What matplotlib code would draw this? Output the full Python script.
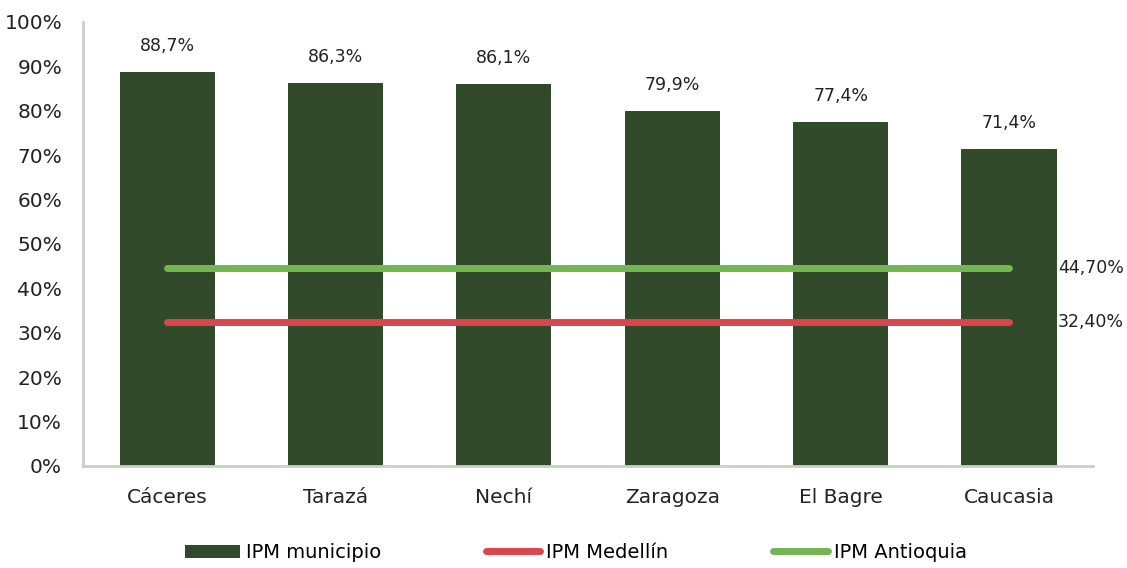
import numpy as np
import matplotlib.pyplot as plt
from matplotlib.patches import Patch
from matplotlib.lines import Line2D

municipios = ['Cáceres', 'Tarazá', 'Nechí', 'Zaragoza', 'El Bagre', 'Caucasia']
ipm_municipio = [88.7, 86.3, 86.1, 79.9, 77.4, 71.4]
ipm_medellin = 32.4
ipm_antioquia = 44.7

bar_color = '#314A2A'
red = '#D9464E'
green = '#74B654'
spine_color = '#C9D1C5'

plt.rcParams['font.family'] = ['DejaVu Sans']

fig = plt.figure(figsize=(11.27, 5.68), dpi=100)
ax = fig.add_axes([0.0736, 0.1796, 0.8964, 0.7817])

x = np.arange(len(municipios))
ax.bar(x, ipm_municipio, width=0.565, color=bar_color, zorder=2)

for xi, v in zip(x, ipm_municipio):
    ax.text(xi, v + 3.8, f'{v:.1f}%'.replace('.', ','), ha='center', va='bottom',
            fontsize=12.5, color='#222222')

ax.plot([x[0], x[-1]], [ipm_antioquia, ipm_antioquia], color=green, lw=5,
        solid_capstyle='round', zorder=3)
ax.plot([x[0], x[-1]], [ipm_medellin, ipm_medellin], color=red, lw=5,
        solid_capstyle='round', zorder=3)
ax.text(x[-1] + 0.29, ipm_antioquia, f'{ipm_antioquia:.2f}%'.replace('.', ','),
        va='center', ha='left', fontsize=12.5, color='#222222')
ax.text(x[-1] + 0.29, ipm_medellin, f'{ipm_medellin:.2f}%'.replace('.', ','),
        va='center', ha='left', fontsize=12.5, color='#222222')

ax.set_xlim(-0.5, 5.5)
ax.set_ylim(0, 100)
ax.set_yticks(np.arange(0, 101, 10))
ax.set_yticklabels([f'{t}%' for t in range(0, 101, 10)])
ax.set_xticks(x)
ax.set_xticklabels(municipios)
ax.tick_params(axis='both', length=0, labelsize=14.5, colors='#222222')
ax.tick_params(axis='x', pad=16)
ax.tick_params(axis='y', pad=15)

for s in ['top', 'right']:
    ax.spines[s].set_visible(False)
for s in ['left', 'bottom']:
    ax.spines[s].set_color(spine_color)
    ax.spines[s].set_linewidth(2)

handles = [
    Patch(facecolor=bar_color, label='IPM municipio'),
    Line2D([0], [0], color=red, lw=5, solid_capstyle='round', label='IPM Medellín'),
    Line2D([0], [0], color=green, lw=5, solid_capstyle='round', label='IPM Antioquia'),
]
fig.legend(handles=handles, loc='center', bbox_to_anchor=(0.511, 0.027), ncol=3,
           frameon=False, fontsize=14, handlelength=2.8, handletextpad=0.3,
           columnspacing=5.4)

fig.savefig('out.png', dpi=100)
